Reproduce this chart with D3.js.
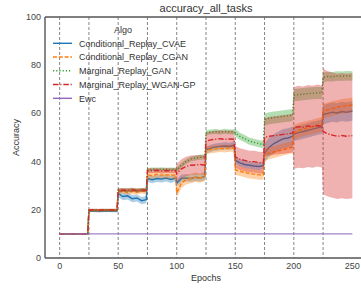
<!DOCTYPE html>
<html>
<head>
<meta charset="utf-8">
<script src="https://cdn.jsdelivr.net/npm/d3@7"></script>
<style>
body { margin: 0; background: #fff; }
text { font-family: "Liberation Sans", Arial, sans-serif; }
</style>
</head>
<body>
<script>
// epochs sampled in each task (25 epochs per task)
var epochs = [0,4,8,12,16,20,24, 25,29,33,37,41,45,49, 50,54,58,62,66,70,74,
    75,79,83,87,91,95,99, 100,104,108,112,116,120,124, 125,129,133,137,141,145,149,
    150,154,158,162,166,170,174, 175,179,183,187,191,195,199, 200,204,208,212,216,220,224,
    225,229,233,237,241,245,250];
var taskStarts = [0,25,50,75,100,125,150,175,200,225];
var xTicks = [0,50,100,150,200,250];
var yTicks = [0,20,40,60,80,100];

var algos = ["Conditional_Replay_CVAE", "Conditional_Replay_CGAN", "Marginal_Replay_GAN", "Marginal_Replay_WGAN-GP", "Ewc"];

var cvae = [10,10,10,10,10,10,10, 19.5,19.6,19.4,19.5,19.6,19.5,19.5, 26.8,25.5,25.8,24.6,24.9,23.8,24.2,
    33,32.5,33,32.8,33.2,32.6,33.2, 31,33,33.2,33,33.5,33.2,33.8, 44.8,45.5,46,46.2,46.5,46.3,46.8,
    40.5,39.5,38.8,38.5,38.2,38,38.3, 43.5,46,47.5,48.5,49.5,49.8,50.5, 51.5,52,52.5,53,53.5,54,54.5,
    59.5,60,60.5,60.2,60.8,60.5,61];
var cgan = [10,10,10,10,10,10,10, 19.8,19.8,19.7,19.8,19.9,19.8,19.8, 27.5,27.8,27.2,27.6,27.4,27.8,27.5,
    34.5,34.2,34.8,34.4,34.6,34.3,34.5, 27,31,32.5,33,33.5,33.2,33.8, 44.5,45,45.2,45.5,45.3,45.6,45.5,
    36.5,36,35.5,35,34.8,34.5,34.5, 43,43.5,44,44.5,45,45.5,46, 52,53,53.5,54,54.5,55,55.5,
    61,61.5,62,62.5,63,63.2,63.5];
var gan = [10,10,10,10,10,10,10, 19.8,19.9,19.8,19.9,19.8,19.9,19.8, 28,28.2,28,28.3,28.1,28.2,28.3,
    36.5,36.8,36.6,36.9,36.7,36.8,36.7, 36.5,38.5,40,41,41.5,41.8,42, 52,52.3,52.5,52.2,52.6,52.3,52.4,
    52,50.5,49.5,48.5,48,47.5,47, 57.5,58,58.3,58.5,58.8,59,59.3, 67.5,67.8,68,68.2,68.4,68.5,68.5,
    75,75.3,75.2,75.5,75.4,75.6,75.5];
var wgan = [10,10,10,10,10,10,10, 19.9,19.9,19.9,19.9,19.9,19.9,19.9, 28.2,28.1,28.2,28.3,28,28.2,28.1,
    36.3,36.2,36.4,36.1,36.3,36.2,36.3, 35,37,38,38.5,38.6,38.8,38.5, 48.5,49,49.3,49.5,49.2,49.4,49.3,
    42,41,40.5,40,40,39.6,39.5, 50,50.5,50.8,51,51.3,51.5,51.8, 54,54.5,54.2,54.8,54.5,55,54.6,
    52.5,51.5,51,50.5,50.8,50.5,50.8];
var ewcEpochs = [0, 250];
var ewc = [10, 10];

// half width of the confidence band in each task
var cvaeBand = [0.2,0.5,1.5,1.5,1.5,1.5,1.5,4,3,4];
var cganBand = [0.2,0.5,1,1.5,2,1.5,2,2.5,3,3];
var ganBand = [0.2,0.5,0.8,0.8,1,1,1.5,2.5,2.5,2];
var wganBand = [0.2,0.5,0.8,1,4,3.5,4.5,8,17,26];

var colors = ["#1f77b4", "#ff7f0e", "#2ca02c", "#d62728", "#9467bd"];
var dashes = [null, "4,1.8", "1.2,2", "5.5,1.8,1.2,1.8", null];

var width = 361, height = 291;
var svg = d3.select("body").append("svg").attr("width", width).attr("height", height);

var x = d3.scaleLinear().domain([-12.5, 262.5]).range([45, 367]);
var y = d3.scaleLinear().domain([0, 100]).range([258, 17]);

// task boundaries
svg.selectAll(".task").data(taskStarts).enter().append("line")
    .attr("x1", function(d) { return x(d); }).attr("x2", function(d) { return x(d); })
    .attr("y1", y(100)).attr("y2", y(0))
    .attr("stroke", "#666").attr("stroke-width", 0.8).attr("stroke-dasharray", "3,2");

var series = [
    {name: algos[0], xs: epochs, v: cvae, band: cvaeBand},
    {name: algos[1], xs: epochs, v: cgan, band: cganBand},
    {name: algos[2], xs: epochs, v: gan, band: ganBand},
    {name: algos[3], xs: epochs, v: wgan, band: wganBand},
    {name: algos[4], xs: ewcEpochs, v: ewc, band: null}
];

series.forEach(function(s, i) {
    var pts = s.xs.map(function(e, j) {
        var hw = s.band ? s.band[Math.min(9, Math.floor(e / 25))] : 0;
        return {e: e, v: s.v[j], hw: hw};
    });
    var line = d3.line().x(function(d) { return x(d.e); }).y(function(d) { return y(d.v); });
    var path = svg.append("path").datum(pts).attr("d", line)
        .attr("fill", "none").attr("stroke", colors[i]).attr("stroke-width", 1.4);
    if (dashes[i]) path.attr("stroke-dasharray", dashes[i]);
    if (!dashes[i] && !s.band) path.attr("stroke-opacity", 0.85);
    if (s.band) {
        var area = d3.area().x(function(d) { return x(d.e); })
            .y0(function(d) { return y(d.v - d.hw); })
            .y1(function(d) { return y(d.v + d.hw); });
        svg.append("path").datum(pts).attr("d", area)
            .attr("fill", colors[i]).attr("fill-opacity", 0.36).attr("stroke", "none");
    }
});

// spines
svg.append("line").attr("x1", 45).attr("x2", 45).attr("y1", 17).attr("y2", 258).attr("stroke", "#555").attr("stroke-width", 1.4);
svg.append("line").attr("x1", 45).attr("x2", 367).attr("y1", 258).attr("y2", 258).attr("stroke", "#555").attr("stroke-width", 1.4);
svg.append("line").attr("x1", 45).attr("x2", 367).attr("y1", 17).attr("y2", 17).attr("stroke", "#555").attr("stroke-width", 1.4);

// tick labels
svg.selectAll(".xt").data(xTicks).enter().append("text")
    .attr("x", function(d) { return x(d); }).attr("y", 269)
    .attr("text-anchor", "middle").attr("font-size", 9).attr("fill", "#444")
    .text(function(d) { return d; });
svg.selectAll(".yt").data(yTicks).enter().append("text")
    .attr("x", 41).attr("y", function(d) { return y(d) + 3; })
    .attr("text-anchor", "end").attr("font-size", 9).attr("fill", "#444")
    .text(function(d) { return d; });

// titles
svg.append("text").attr("x", 206).attr("y", 12).attr("text-anchor", "middle")
    .attr("font-size", 11).attr("fill", "#333").text("accuracy_all_tasks");
svg.append("text").attr("x", 206).attr("y", 281).attr("text-anchor", "middle")
    .attr("font-size", 9).attr("fill", "#333").text("Epochs");
svg.append("text").attr("transform", "translate(19,137.5) rotate(-90)").attr("text-anchor", "middle")
    .attr("font-size", 9).attr("fill", "#333").text("Accuracy");

// legend
svg.append("text").attr("x", 123).attr("y", 33).attr("text-anchor", "middle")
    .attr("font-size", 9).attr("fill", "#333").text("Algo");
algos.forEach(function(a, i) {
    var yy = 43.3 + i * 13.75;
    var l = svg.append("line").attr("x1", 53).attr("x2", 72).attr("y1", yy).attr("y2", yy)
        .attr("stroke", colors[i]).attr("stroke-width", 1.4);
    if (dashes[i]) l.attr("stroke-dasharray", dashes[i]);
    svg.append("text").attr("x", 79).attr("y", yy + 3.2).attr("font-size", 9).attr("fill", "#333").text(a);
});
</script>
</body>
</html>
